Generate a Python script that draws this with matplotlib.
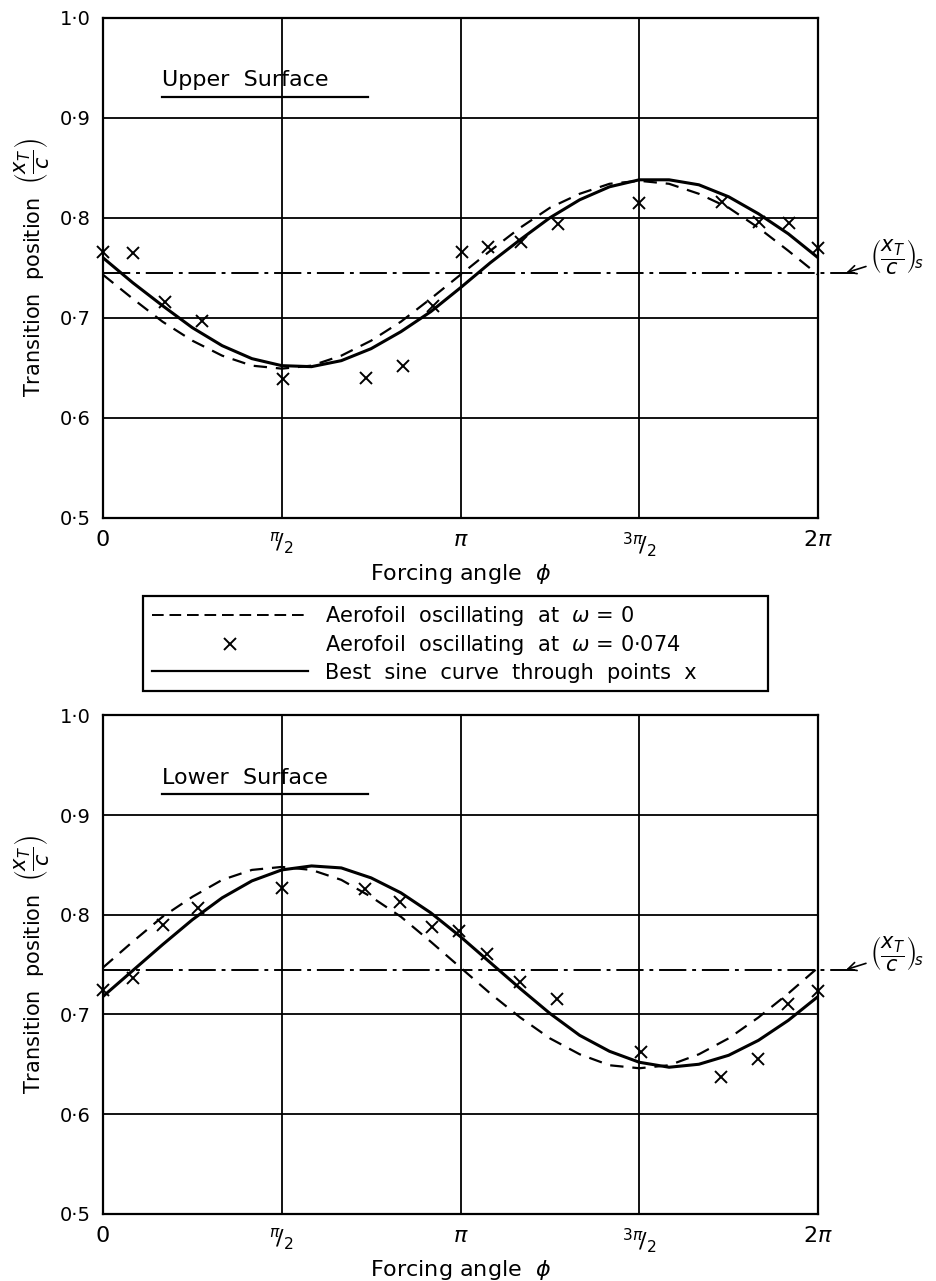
import numpy as np
import matplotlib
matplotlib.use('Agg')
import matplotlib.pyplot as plt
from matplotlib.lines import Line2D

plt.rcParams['font.family'] = ['DejaVu Sans']
plt.rcParams['mathtext.fontset'] = 'dejavusans'

# curve samples every pi/12 (phi = k*pi/12, k = 0..24)
curve_k = list(range(25))

upper_steady = [0.743, 0.719, 0.696, 0.677, 0.662, 0.652, 0.649, 0.652, 0.662,
                0.677, 0.696, 0.719, 0.743, 0.767, 0.790, 0.810, 0.824, 0.834,
                0.837, 0.834, 0.824, 0.810, 0.790, 0.767, 0.743]
upper_fit = [0.760, 0.735, 0.712, 0.690, 0.672, 0.659, 0.652, 0.651, 0.657,
             0.669, 0.686, 0.706, 0.730, 0.755, 0.778, 0.800, 0.818, 0.831,
             0.838, 0.838, 0.833, 0.821, 0.804, 0.784, 0.760]
lower_steady = [0.747, 0.773, 0.798, 0.818, 0.835, 0.845, 0.848, 0.845, 0.835,
                0.818, 0.798, 0.773, 0.747, 0.721, 0.697, 0.676, 0.660, 0.649,
                0.646, 0.649, 0.660, 0.676, 0.697, 0.721, 0.747]
lower_fit = [0.718, 0.744, 0.770, 0.795, 0.817, 0.834, 0.845, 0.849, 0.847,
             0.837, 0.822, 0.802, 0.778, 0.752, 0.726, 0.701, 0.679, 0.663,
             0.652, 0.647, 0.650, 0.659, 0.674, 0.694, 0.718]

# measured points (phi in units of pi)
upper_pts_phi = [0.0, 0.084, 0.174, 0.276, 0.504, 0.737, 0.838, 0.924, 1.003,
                 1.078, 1.168, 1.272, 1.499, 1.731, 1.835, 1.919, 2.0]
upper_pts_val = [0.766, 0.765, 0.716, 0.697, 0.639, 0.640, 0.652, 0.712, 0.766,
                 0.771, 0.776, 0.794, 0.815, 0.816, 0.796, 0.795, 0.770]
lower_pts_phi = [0.0, 0.084, 0.168, 0.265, 0.501, 0.734, 0.832, 0.920, 0.997,
                 1.073, 1.165, 1.269, 1.504, 1.728, 1.832, 1.916, 2.0]
lower_pts_val = [0.725, 0.737, 0.790, 0.807, 0.827, 0.826, 0.813, 0.788, 0.784,
                 0.761, 0.733, 0.715, 0.662, 0.637, 0.655, 0.710, 0.724]

steady_level = 0.745

x_ticks = [0, np.pi / 2, np.pi, 3 * np.pi / 2, 2 * np.pi]
x_ticklabels = ['0', r'${}^{\pi}\!/_{2}$', r'$\pi$', r'${}^{3\pi}\!/_{2}$', r'$2\pi$']
y_ticks = [0.5, 0.6, 0.7, 0.8, 0.9, 1.0]
y_ticklabels = ['0·5', '0·6', '0·7', '0·8', '0·9', '1·0']

fig = plt.figure(figsize=(9.36, 12.81), dpi=100)
ax_up = fig.add_axes([0.110, 0.596, 0.764, 0.390])
ax_lo = fig.add_axes([0.110, 0.0525, 0.764, 0.389])


def draw_panel(ax, steady, fit, pts_phi, pts_val, title, title_y):
    phi = [k * np.pi / 12 for k in curve_k]
    ax.plot(phi, steady, color='black', lw=1.6, dashes=(6, 4))
    ax.plot(phi, fit, color='black', lw=2.2)
    ax.plot([p * np.pi for p in pts_phi], pts_val, 'x', color='black',
            ms=8, mew=1.4, clip_on=False)

    # steady transition position, runs out past the frame
    ax.plot([0, 6.61], [steady_level, steady_level], color='black', lw=1.4,
            dashes=(14, 3, 2, 3), clip_on=False)
    ax.annotate(r'$\left(\dfrac{x_T}{c}\right)_{\!s}$', xy=(6.53, steady_level),
                xytext=(6.74, steady_level + 0.016), textcoords='data',
                fontsize=15, ha='left', va='center', annotation_clip=False,
                arrowprops=dict(arrowstyle='->', color='black', lw=1.2,
                                shrinkA=1, shrinkB=0))

    ax.set_xlim(0, 2 * np.pi)
    ax.set_ylim(0.5, 1.0)
    ax.set_xticks(x_ticks)
    ax.set_xticklabels(x_ticklabels, fontsize=16)
    ax.set_yticks(y_ticks)
    ax.set_yticklabels(y_ticklabels, fontsize=14)
    ax.tick_params(length=0, pad=9)
    ax.grid(True, color='black', lw=1.3)
    for s in ax.spines.values():
        s.set_linewidth(1.6)
    ax.set_xlabel(r'Forcing angle  $\phi$', fontsize=16, labelpad=2)
    ax.set_ylabel(r'Transition  position  $\left(\dfrac{x_T}{c}\right)$',
                  fontsize=15, labelpad=6)

    ax.text(0.082, title_y, title, transform=ax.transAxes, fontsize=16,
            ha='left', va='bottom')
    ax.plot([0.082, 0.37], [title_y - 0.013, title_y - 0.013], color='black',
            lw=1.6, transform=ax.transAxes)


draw_panel(ax_up, upper_steady, upper_fit, upper_pts_phi, upper_pts_val,
           'Upper  Surface', 0.855)
draw_panel(ax_lo, lower_steady, lower_fit, lower_pts_phi, lower_pts_val,
           'Lower  Surface', 0.855)

handles = [
    Line2D([], [], color='black', lw=1.4, dashes=(6, 3)),
    Line2D([], [], color='black', ls='none', marker='x', ms=8, mew=1.4),
    Line2D([], [], color='black', lw=1.6),
]
labels = [r'Aerofoil  oscillating  at  $\omega$ = 0',
          r'Aerofoil  oscillating  at  $\omega$ = 0·074',
          'Best  sine  curve  through  points  x']
leg = fig.legend(handles, labels, loc='upper left',
                 bbox_to_anchor=(0.142, 0.483, 0.690, 0.06), mode='expand',
                 fontsize=15, handlelength=7.5, handletextpad=0.8,
                 labelspacing=0.25, borderpad=0.4, fancybox=False,
                 framealpha=1)
leg.get_frame().set_edgecolor('black')
leg.get_frame().set_linewidth(1.6)

fig.savefig('out.png', dpi=100)
